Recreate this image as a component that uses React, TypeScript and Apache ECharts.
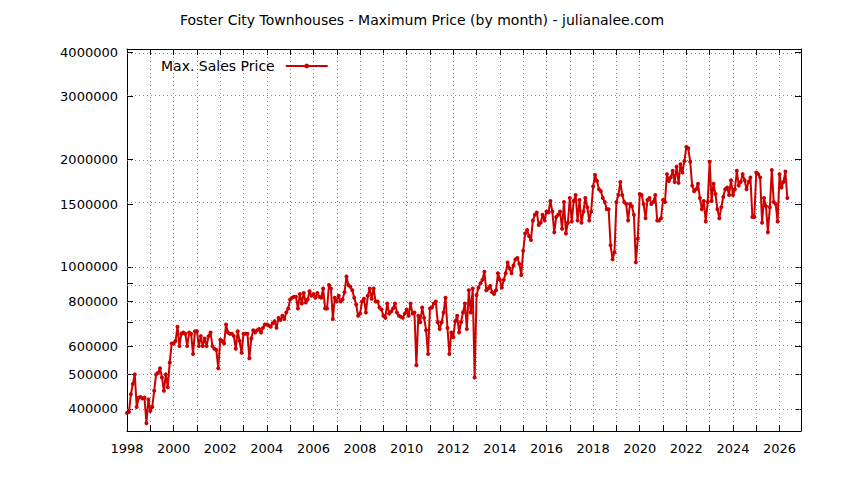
import React, { useEffect, useRef } from "react";
import * as echarts from "echarts";

const chartTitle = "Foster City Townhouses - Maximum Price (by month) - julianalee.com";
const seriesName = "Max. Sales Price";
const startYear = 1998;

// Monthly maximum sale prices, in thousands of dollars (Jan..Dec)
const p1998 = [390, 392, 440, 470, 500, 405, 430, 432, 428, 430, 365, 425];
const p1999 = [395, 405, 450, 500, 505, 520, 490, 450, 500, 460, 540, 610];
const p2000 = [610, 620, 680, 600, 650, 655, 650, 600, 655, 650, 570, 660];
const p2001 = [660, 600, 640, 600, 630, 600, 640, 655, 600, 590, 585, 520];
const p2002 = [625, 620, 610, 690, 655, 650, 650, 640, 590, 660, 620, 575];
const p2003 = [650, 650, 650, 555, 630, 665, 655, 665, 670, 655, 675, 690];
const p2004 = [690, 685, 680, 695, 705, 675, 720, 710, 730, 715, 745, 765];
const p2005 = [810, 820, 825, 825, 765, 840, 790, 845, 795, 810, 855, 830];
const p2006 = [840, 820, 845, 825, 820, 870, 765, 765, 890, 870, 715, 820];
const p2007 = [800, 830, 800, 810, 850, 940, 890, 880, 860, 820, 785, 730];
const p2008 = [740, 800, 815, 745, 830, 870, 815, 870, 800, 800, 770, 760];
const p2009 = [730, 720, 790, 740, 750, 765, 790, 745, 730, 725, 720, 740];
const p2010 = [760, 730, 790, 740, 745, 530, 730, 700, 770, 720, 665, 570];
const p2011 = [765, 770, 790, 800, 700, 670, 700, 745, 820, 675, 570, 655];
const p2012 = [635, 705, 730, 655, 700, 745, 790, 670, 860, 745, 870, 490];
const p2013 = [835, 875, 900, 920, 970, 860, 870, 885, 850, 840, 860, 960];
const p2014 = [920, 875, 920, 960, 1030, 990, 960, 1010, 1050, 1060, 1020, 950];
const p2015 = [1110, 1240, 1270, 1220, 1190, 1350, 1400, 1420, 1310, 1330, 1400, 1350];
const p2016 = [1430, 1420, 1530, 1430, 1250, 1380, 1400, 1430, 1280, 1520, 1240, 1330];
const p2017 = [1560, 1340, 1530, 1590, 1350, 1540, 1330, 1430, 1560, 1470, 1350, 1430];
const p2018 = [1680, 1810, 1740, 1650, 1630, 1560, 1520, 1450, 1450, 1150, 1050, 1100];
const p2019 = [1520, 1590, 1730, 1590, 1520, 1500, 1350, 1500, 1480, 1400, 1030, 1200];
const p2020 = [1600, 1590, 1500, 1370, 1540, 1560, 1500, 1520, 1590, 1350, 1350, 1370];
const p2021 = [1540, 1520, 1820, 1740, 1780, 1860, 1730, 1910, 1720, 1940, 1840, 1980];
const p2022 = [2170, 2150, 1970, 1690, 1630, 1650, 1710, 1560, 1450, 1530, 1340, 1520];
const p2023 = [1970, 1530, 1710, 1600, 1450, 1370, 1470, 1570, 1650, 1670, 1590, 1750];
const p2024 = [1590, 1650, 1860, 1690, 1730, 1820, 1750, 1650, 1730, 1780, 1380, 1380];
const p2025 = [1840, 1820, 1780, 1330, 1560, 1480, 1250, 1470, 1870, 1520, 1500, 1340];
const p2026 = [1820, 1670, 1730, 1850, 1560];

const yearRows = [
  p1998, p1999, p2000, p2001, p2002, p2003, p2004, p2005, p2006, p2007,
  p2008, p2009, p2010, p2011, p2012, p2013, p2014, p2015, p2016, p2017,
  p2018, p2019, p2020, p2021, p2022, p2023, p2024, p2025, p2026,
];

// Axis ticks
const yTickLabels = [400000, 500000, 600000, 800000, 1000000, 1500000, 2000000, 3000000, 4000000];
const yGridValues = [400000, 500000, 600000, 700000, 800000, 900000, 1000000, 1500000, 2000000, 3000000, 4000000];
const xMin = 1998;
const xMax = 2026.92;
const yMin = 347000;
const yMax = 4080000;

const FONT = "DejaVu Sans";
const RED = "#cc0000";
const GRID_COLOR = "#8a8a8a";

export default function App() {
  const ref = useRef<HTMLDivElement>(null);

  useEffect(() => {
    document.body.style.margin = "0";
    if (!ref.current) return;
    const chart = echarts.init(ref.current, null, { renderer: "svg" });

    const monthly: number[] = [];
    yearRows.forEach((row) => row.forEach((v) => monthly.push(v * 1000)));
    const data = monthly.map((v, i) => [startYear + i / 12, Math.log10(v)]);

    const yLabelLog = yTickLabels.map((v) => Math.log10(v));
    const yGridLog = yGridValues.map((v) => Math.log10(v));

    const yFormatter = (val: number) => {
      for (const t of yTickLabels) {
        if (Math.abs(Math.log10(t) - val) < 1e-6) return String(t);
      }
      return "";
    };
    const xFormatter = (val: number) => {
      const r = Math.round(val);
      if (Math.abs(val - r) < 1e-6 && r % 2 === 0) return String(r);
      return "";
    };

    const xBase = {
      type: "value" as const,
      min: xMin,
      max: xMax,
      interval: 1,
      axisLine: { show: true, onZero: false, lineStyle: { color: "#000", width: 1 } },
      axisTick: { show: true, inside: true, length: 6, lineStyle: { color: "#000" } },
    };
    const yBase = {
      type: "value" as const,
      min: Math.log10(yMin),
      max: Math.log10(yMax),
      axisLine: { show: true, onZero: false, lineStyle: { color: "#000", width: 1 } },
      axisTick: { show: true, inside: true, length: 6, customValues: yGridLog, lineStyle: { color: "#000" } },
      splitLine: { show: false },
    };

    chart.setOption({
      animation: false,
      backgroundColor: "#fff",
      title: {
        text: chartTitle,
        left: "center",
        top: 8,
        textStyle: { fontFamily: FONT, fontSize: 14, fontWeight: "normal", color: "#000" },
      },
      legend: {
        data: [seriesName],
        left: 156,
        top: 54,
        align: "right",
        itemWidth: 42,
        itemHeight: 6,
        textStyle: { fontFamily: FONT, fontSize: 14, color: "#000", padding: [0, 6, 0, 0] },
      },
      grid: { left: 127, right: 43, top: 49, bottom: 49, containLabel: false, outerBoundsMode: "none" },
      xAxis: [
        {
          ...xBase,
          position: "bottom",
          axisLabel: { show: true, formatter: xFormatter, margin: 11, fontFamily: FONT, fontSize: 13, color: "#000" },
          splitLine: { show: true, lineStyle: { color: GRID_COLOR, type: [1, 3], width: 1 } },
        },
        {
          ...xBase,
          position: "top",
          axisLabel: { show: false },
          splitLine: { show: false },
        },
      ],
      yAxis: [
        {
          ...yBase,
          position: "left",
          axisLabel: {
            show: true,
            customValues: yLabelLog,
            formatter: yFormatter,
            margin: 9,
            fontFamily: FONT,
            fontSize: 13,
            color: "#000",
          },
        },
        {
          ...yBase,
          position: "right",
          axisLabel: { show: false },
        },
      ],
      series: [
        {
          name: "grid",
          type: "line",
          data: [],
          xAxisIndex: 0,
          yAxisIndex: 0,
          silent: true,
          z: 1,
          markLine: {
            silent: true,
            symbol: "none",
            z: 1,
            label: { show: false },
            lineStyle: { color: GRID_COLOR, type: [1, 3], width: 1 },
            data: yGridLog.map((v) => ({ yAxis: v })),
          },
        },
        {
          name: seriesName,
          type: "line",
          data,
          xAxisIndex: 0,
          yAxisIndex: 0,
          z: 3,
          symbol: "circle",
          symbolSize: 4,
          showSymbol: true,
          color: RED,
          itemStyle: { color: RED },
          lineStyle: { color: RED, width: 2 },
          emphasis: { disabled: true },
        },
      ],
    });

    return () => chart.dispose();
  }, []);

  return (
    <div
      ref={ref}
      style={{ position: "absolute", left: 0, top: 0, width: 844, height: 480, background: "#fff" }}
    />
  );
}
